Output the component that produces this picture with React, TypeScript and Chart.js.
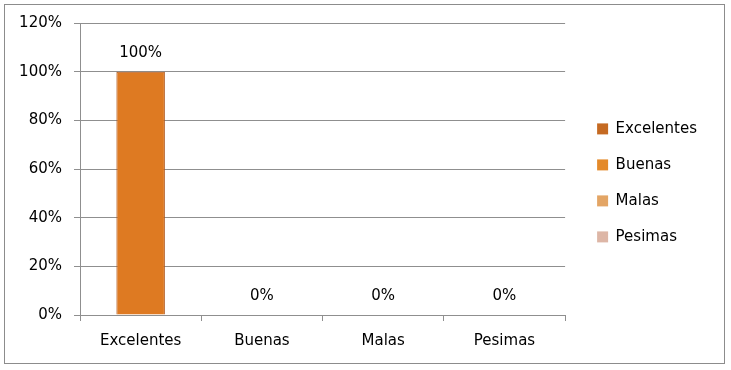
import React, { useEffect, useRef } from "react";
import { Chart, registerables } from "chart.js";

Chart.register(...registerables);

const categories = ["Excelentes", "Buenas", "Malas", "Pesimas"];
const values = [100, 0, 0, 0];
const legendColors = ["#C56A22", "#E48A2A", "#E3A565", "#DDB6A6"];
const yTicks = [0, 20, 40, 60, 80, 100, 120];

const FONT = "'DejaVu Sans', sans-serif";
const LEGEND_GAP = 11;

const valueLabels = {
  id: "valueLabels",
  afterDatasetsDraw(chart: any) {
    const ctx = chart.ctx;
    const meta = chart.getDatasetMeta(0);
    ctx.save();
    ctx.font = `15px ${FONT}`;
    ctx.fillStyle = "#000";
    ctx.textAlign = "center";
    ctx.textBaseline = "middle";
    meta.data.forEach((bar: any, i: number) => {
      ctx.fillText(values[i] + "%", bar.x, bar.y - 19);
    });
    ctx.restore();
  },
};

const legendGap = {
  id: "legendGap",
  afterLayout(chart: any) {
    const lg = chart.legend;
    if (lg) {
      lg.left += LEGEND_GAP;
      lg.right += LEGEND_GAP;
    }
  },
};

export default function App() {
  const ref = useRef<HTMLCanvasElement | null>(null);
  useEffect(() => {
    if (!ref.current) return;
    const chart = new Chart(ref.current, {
      type: "bar",
      data: {
        labels: categories,
        datasets: [
          {
            data: values,
            backgroundColor: (c: any) => {
              const area = c.chart.chartArea;
              const el = c.element;
              if (!area || !el || el.width === undefined) return "#DE7A22";
              const x0 = el.x - el.width / 2;
              const g = c.chart.ctx.createLinearGradient(x0, 0, x0 + el.width, 0);
              g.addColorStop(0, "#C2621C");
              g.addColorStop(0.12, "#DC7522");
              g.addColorStop(0.5, "#E27D25");
              g.addColorStop(0.88, "#DC7522");
              g.addColorStop(1, "#C2621C");
              return g;
            },
            borderColor: "#B0561A",
            borderWidth: 1,
            barPercentage: 0.4,
            categoryPercentage: 1,
          },
        ],
      },
      options: {
        animation: false,
        responsive: false,
        maintainAspectRatio: false,
        layout: { padding: { top: 23, left: 0, bottom: 0, right: 35 } },
        plugins: {
          tooltip: { enabled: false },
          legend: {
            position: "right",
            align: "start",
            title: { display: true, text: "", padding: { top: 32, bottom: 31 }, font: { size: 12 } },
            labels: {
              boxWidth: 11,
              boxHeight: 11,
              padding: 21,
              color: "#000",
              font: { family: FONT, size: 15 },
              generateLabels: () =>
                categories.map((c, i) => ({
                  text: c,
                  fillStyle: legendColors[i],
                  strokeStyle: legendColors[i],
                  fontColor: "#000",
                  lineWidth: 0,
                  hidden: false,
                  index: i,
                  datasetIndex: 0,
                })),
            },
          },
        },
        scales: {
          x: {
            grid: {
              display: true,
              offset: true,
              drawOnChartArea: false,
              drawTicks: true,
              tickLength: 6,
              color: "#8f8f8f",
            },
            border: { display: true, color: "#8f8f8f" },
            ticks: { color: "#000", font: { family: FONT, size: 15 }, padding: 11 },
            afterFit: (s: any) => {
              s.height = 55;
            },
          },
          y: {
            min: 0,
            max: 120,
            afterBuildTicks: (s: any) => {
              s.ticks = yTicks.map((v) => ({ value: v }));
            },
            grid: { color: "#8f8f8f", drawTicks: true, tickLength: 6 },
            border: { display: true, color: "#8f8f8f" },
            ticks: {
              color: "#000",
              font: { family: FONT, size: 15 },
              padding: 12,
              callback: (v: any) => v + "%",
            },
            afterFit: (s: any) => {
              s.width = 80;
            },
          },
        },
      },
      plugins: [valueLabels, legendGap],
    } as any);
    return () => chart.destroy();
  }, []);

  return (
    <div style={{ position: "fixed", left: 0, top: 0, width: 731, height: 370, background: "#fff" }}>
      <div
        style={{
          position: "absolute",
          left: 4,
          top: 4,
          width: 721,
          height: 360,
          border: "1px solid #8c8c8c",
          boxSizing: "border-box",
        }}
      />
      <canvas ref={ref} width={731} height={370} style={{ position: "absolute", left: 0, top: 0 }} />
    </div>
  );
}
